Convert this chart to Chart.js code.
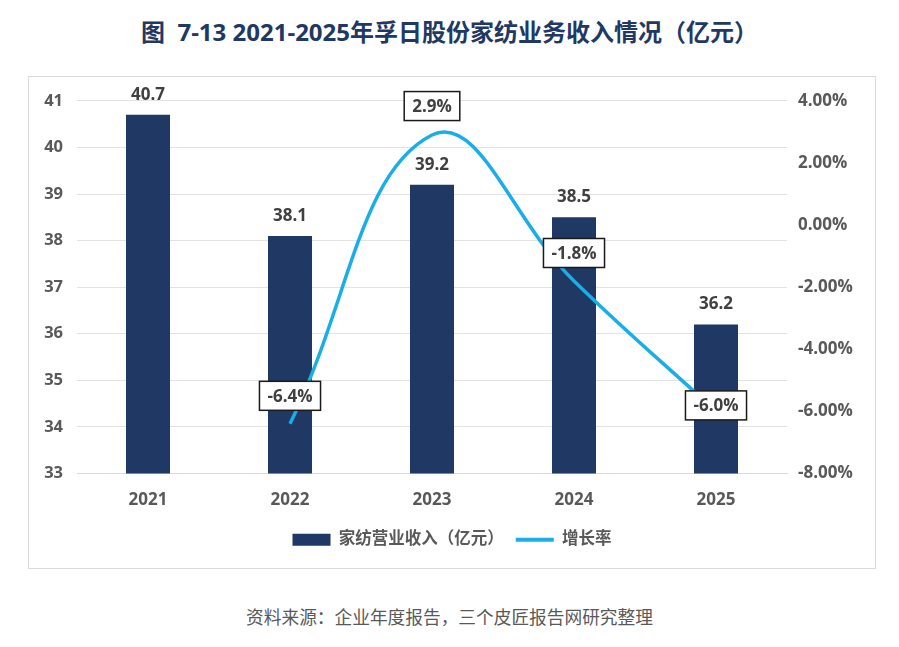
<!DOCTYPE html>
<html>
<head>
<meta charset="utf-8">
<script src="https://cdn.jsdelivr.net/npm/chart.js@4.4.1/dist/chart.umd.min.js"></script>
<style>
  html, body { margin: 0; padding: 0; background: #fff; }
  body { width: 899px; height: 647px; position: relative; overflow: hidden;
         font-family: 'Open Sans', 'Noto Sans CJK SC', sans-serif; }
  #title { position: absolute; left: 0; top: 13px; width: 899px; text-align: center;
           font-size: 24px; font-weight: bold; color: #1f3864; line-height: 38px; }
  #box { position: absolute; left: 28px; top: 76px; width: 846px; height: 491px;
         border: 1px solid #d9d9d9; }
  #source { position: absolute; left: 0; top: 604px; width: 899px; text-align: center;
            font-size: 17.7px; color: #595959; line-height: 26px; }
</style>
</head>
<body>
<div id="title">图&nbsp;&nbsp;7-13 2021-2025年孚日股份家纺业务收入情况（亿元）</div>
<div id="box"><canvas id="chart" width="846" height="491"></canvas></div>
<div id="source">资料来源：企业年度报告，三个皮匠报告网研究整理</div>

<script>
const years = ["2021", "2022", "2023", "2024", "2025"];
const revenue = [40.7, 38.1, 39.2, 38.5, 36.2];      // 家纺营业收入（亿元）
const growth = [null, -6.4, 2.9, -1.8, -6.0];         // 增长率 (%)
const leftTicks = [33, 34, 35, 36, 37, 38, 39, 40, 41];
const rightTicks = [-8, -6, -4, -2, 0, 2, 4];

const navy = "#1f3864";
const cyan = "#1aaee6";
const textGray = "#404040";
const tickGray = "#595959";

// 数据标签：柱顶数值 + 折线方框标签
const labelPlugin = {
  id: "valueLabels",
  afterDatasetsDraw(chart) {
    const ctx = chart.ctx;
    ctx.save();
    ctx.font = "bold 17px 'Open Sans', sans-serif";
    ctx.fillStyle = textGray;
    ctx.textAlign = "center";
    ctx.textBaseline = "middle";

    chart.getDatasetMeta(0).data.forEach(function (bar, i) {
      ctx.fillText(revenue[i].toFixed(1), bar.x, bar.y - 20);
    });

    const lift = [0, 28, 29, 28, 6];
    chart.getDatasetMeta(1).data.forEach(function (pt, i) {
      if (growth[i] === null) return;
      const txt = growth[i].toFixed(1) + "%";
      const w = ctx.measureText(txt).width + 16;
      const h = 29;
      const cx = pt.x;
      const cy = pt.y - lift[i];
      ctx.fillStyle = "#fff";
      ctx.fillRect(cx - w / 2, cy - h / 2, w, h);
      ctx.lineWidth = 1.5;
      ctx.strokeStyle = "#1a1a1a";
      ctx.strokeRect(cx - w / 2, cy - h / 2, w, h);
      ctx.fillStyle = textGray;
      ctx.fillText(txt, cx, cy + 1);
    });
    ctx.restore();
  }
};

Chart.defaults.font.family = "'Open Sans', 'Noto Sans CJK SC', sans-serif";

new Chart(document.getElementById("chart"), {
  type: "bar",
  data: {
    labels: years,
    datasets: [{
      type: "bar",
      label: "家纺营业收入（亿元）",
      data: revenue,
      backgroundColor: navy,
      yAxisID: "y",
      barPercentage: 0.31,
      categoryPercentage: 1,
      pointStyle: "rect",
      order: 2
    }, {
      type: "line",
      label: "增长率",
      data: growth,
      borderColor: cyan,
      backgroundColor: cyan,
      borderWidth: 3.5,
      tension: 0.42,
      pointRadius: 0,
      pointHoverRadius: 0,
      pointStyle: "line",
      yAxisID: "y1",
      clip: false,
      order: 1
    }]
  },
  options: {
    responsive: false,
    animation: false,
    layout: { padding: { top: 22, left: 0, right: 0, bottom: 10 } },
    plugins: {
      tooltip: { enabled: false },
      legend: {
        position: "bottom",
        labels: {
          usePointStyle: true,
          pointStyleWidth: 38,
          boxHeight: 12,
          padding: 12,
          color: tickGray,
          font: { size: 16.5, weight: "bold" },
          generateLabels(chart) {
            const items = Chart.defaults.plugins.legend.labels.generateLabels(chart);
            items.sort((a, b) => a.datasetIndex - b.datasetIndex);
            items.forEach(function (it) {
              if (it.datasetIndex === 1) it.lineWidth = 4;
            });
            return items;
          }
        }
      }
    },
    scales: {
      x: {
        grid: { display: false },
        border: { display: true, color: "#d9d9d9" },
        ticks: { color: tickGray, font: { size: 17, weight: "bold" }, padding: 8 },
        afterFit(scale) { scale.height = 46; }
      },
      y: {
        position: "left",
        min: leftTicks[0],
        max: leftTicks[leftTicks.length - 1],
        afterBuildTicks(scale) { scale.ticks = leftTicks.map(v => ({ value: v })); },
        grid: { color: "#e3e3e3", drawTicks: false, lineWidth: 1 },
        border: { display: false },
        ticks: { color: tickGray, font: { size: 16.5, weight: "bold" }, padding: 14 },
        afterFit(scale) { scale.width = 48; }
      },
      y1: {
        position: "right",
        min: rightTicks[0],
        max: rightTicks[rightTicks.length - 1],
        afterBuildTicks(scale) { scale.ticks = rightTicks.map(v => ({ value: v })); },
        grid: { display: false, drawTicks: false },
        border: { display: false },
        ticks: {
          color: tickGray,
          font: { size: 17, weight: "bold" },
          padding: 11,
          callback: v => v.toFixed(2) + "%"
        },
        afterFit(scale) { scale.width = 88; }
      }
    }
  },
  plugins: [labelPlugin]
});
</script>
</body>
</html>
